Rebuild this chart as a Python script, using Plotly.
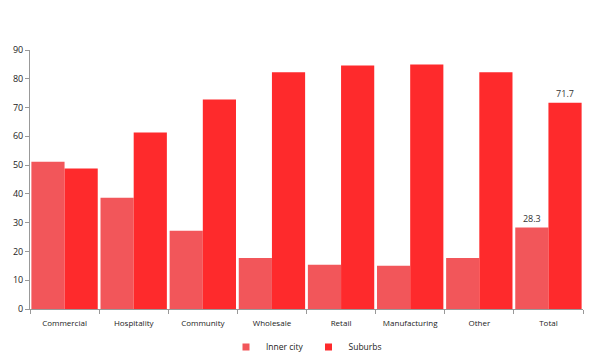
import plotly.graph_objects as go

categories = ["Commercial", "Hospitality", "Community", "Wholesale", "Retail",
              "Manufacturing", "Other", "Total"]
inner_city = [51.2, 38.7, 27.2, 17.7, 15.4, 15.0, 17.7, 28.3]
suburbs = [48.8, 61.3, 72.8, 82.3, 84.6, 85.0, 82.3, 71.7]
label_categories = ["Total"]

inner_color = "#f2565a"
sub_color = "#fe2a2c"

def labels(vals):
    return [f"{v:.1f}" if c in label_categories else "" for c, v in zip(categories, vals)]

fig = go.Figure()
fig.add_trace(go.Bar(name="Inner city", x=categories, y=inner_city,
                     marker=dict(color=inner_color, line=dict(width=0)),
                     text=labels(inner_city), textposition="outside",
                     textfont=dict(size=9, color="#333"), cliponaxis=False,
                     showlegend=False))
fig.add_trace(go.Bar(name="Suburbs", x=categories, y=suburbs,
                     marker=dict(color=sub_color, line=dict(width=0)),
                     text=labels(suburbs), textposition="outside",
                     textfont=dict(size=9, color="#333"), cliponaxis=False,
                     showlegend=False))
# legend entries with small square swatches
fig.add_trace(go.Scatter(name="Inner city", x=[None], y=[None], mode="markers",
                         marker=dict(symbol="square", size=7, color=inner_color)))
fig.add_trace(go.Scatter(name="Suburbs", x=[None], y=[None], mode="markers",
                         marker=dict(symbol="square", size=7, color=sub_color)))

fig.update_layout(
    width=600, height=359,
    margin=dict(l=22, r=25, t=42, b=58, autoexpand=False),
    barmode="group", bargap=0.04, bargroupgap=0,
    plot_bgcolor="white", paper_bgcolor="white",
    font=dict(family="Open Sans, Liberation Sans, sans-serif", size=9, color="#222"),
    legend=dict(orientation="h", x=0.5, xanchor="center", yref="container",
                y=0.056, yanchor="middle", entrywidth=0, 
                font=dict(size=8.5), itemwidth=30, tracegroupgap=0),
    showlegend=True,
)
fig.update_xaxes(showline=True, linecolor="#999", linewidth=1, showgrid=False,
                 ticks="outside", tickson="boundaries", ticklen=4, tickcolor="#999",
                 ticklabelstandoff=6, tickfont=dict(size=8), automargin=False)
fig.update_yaxes(range=[0, 90], dtick=10, showline=True, linecolor="#999", linewidth=1,
                 showgrid=False, ticks="outside", ticklen=4, tickcolor="#999",
                 tickfont=dict(size=9), zeroline=False, automargin=False)

fig.write_html("out.html")
